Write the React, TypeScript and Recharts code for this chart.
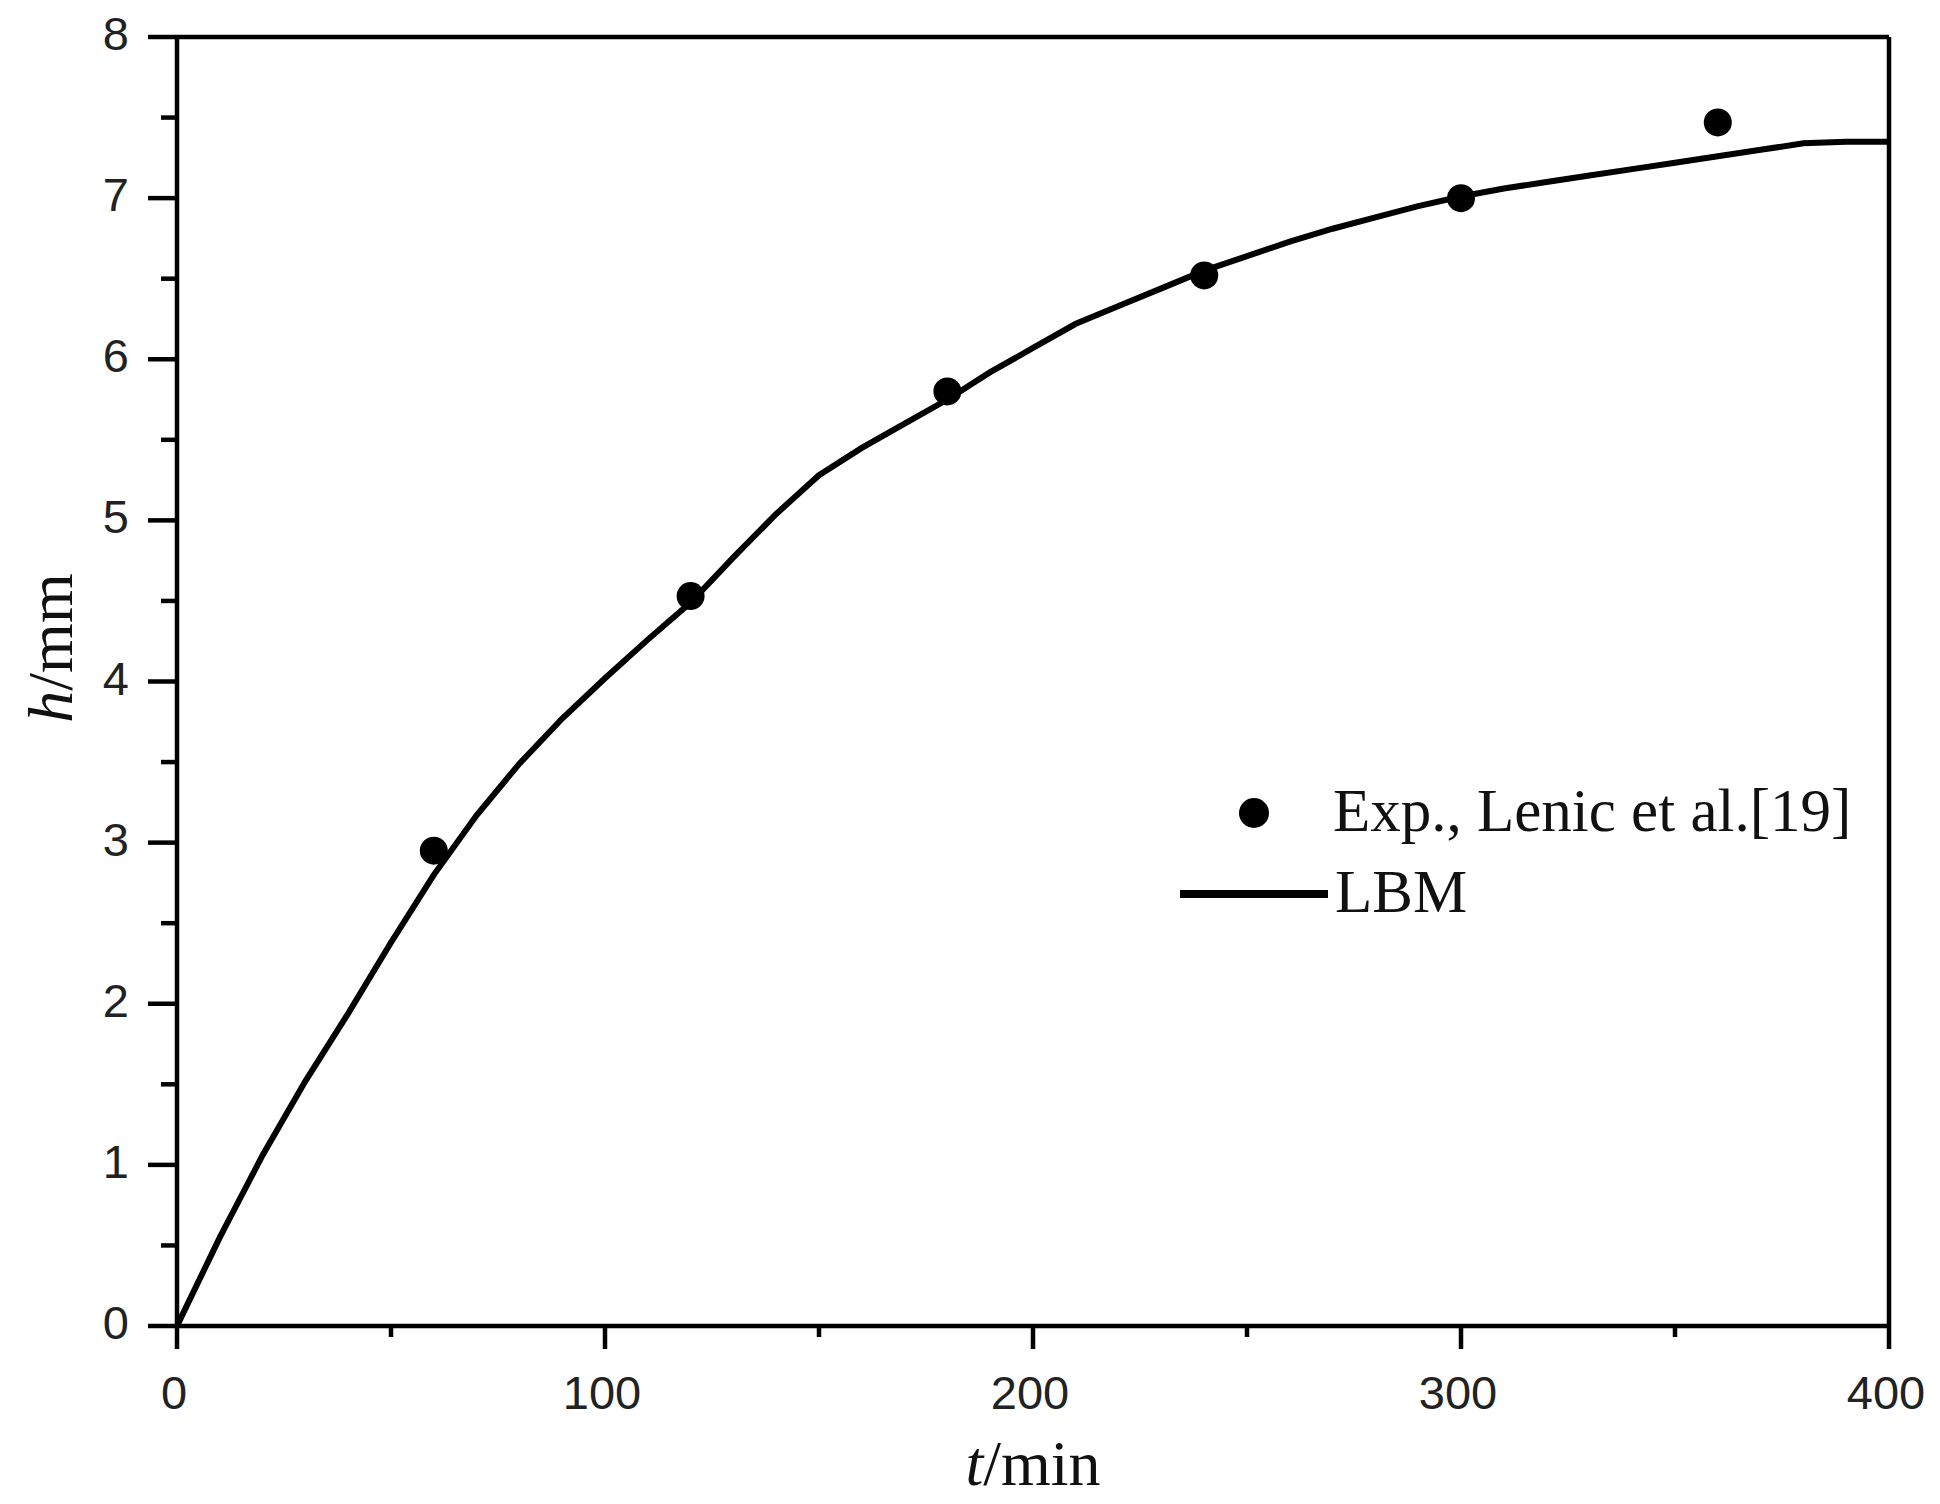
import React from 'react';
import { ComposedChart, Line, Scatter, XAxis, YAxis, ReferenceLine, Legend } from 'recharts';

// LBM simulation curve (t in min, h in mm)
const lbmT = [0, 10, 20, 30, 40, 50, 60, 70, 80, 90, 100, 110, 120, 130, 140, 150, 160, 170, 180, 190, 200, 210, 220, 230, 240, 250, 260, 270, 280, 290, 300, 310, 320, 330, 340, 350, 360, 370, 380, 390, 400];
const lbmH = [0, 0.55, 1.06, 1.52, 1.94, 2.38, 2.8, 3.17, 3.49, 3.77, 4.02, 4.26, 4.49, 4.77, 5.04, 5.28, 5.45, 5.6, 5.75, 5.92, 6.07, 6.22, 6.33, 6.44, 6.55, 6.64, 6.73, 6.81, 6.88, 6.95, 7.01, 7.06, 7.1, 7.14, 7.18, 7.22, 7.26, 7.3, 7.34, 7.35, 7.35];

// Experimental points, Lenic et al. [19]
const expT = [60, 120, 180, 240, 300, 360];
const expH = [2.95, 4.53, 5.8, 6.52, 7.0, 7.47];

const xTicks = [0, 50, 100, 150, 200, 250, 300, 350, 400];
const yTicks = [0, 0.5, 1, 1.5, 2, 2.5, 3, 3.5, 4, 4.5, 5, 5.5, 6, 6.5, 7, 7.5, 8];

const lbmData = lbmT.map((t, i) => ({ t, h: lbmH[i] }));
const expData = expT.map((t, i) => ({ t, h: expH[i] }));

const SANS = "'Liberation Sans', Arial, sans-serif";
const SERIF = "'Liberation Serif', 'Times New Roman', serif";
const SW = 4.5;

const YTick = (props: any) => {
  const { x, y, payload } = props;
  const v = payload.value;
  const major = Number.isInteger(v);
  return (
    <g>
      <line x1={x} x2={x - (major ? 29 : 16)} y1={y} y2={y} stroke="#000" strokeWidth={SW} />
      {major && (
        <text x={x - 48} y={y + 13} textAnchor="end" fontSize={47} fontFamily={SANS} fill="#222">
          {v}
        </text>
      )}
    </g>
  );
};

const XTick = (props: any) => {
  const { x, y, payload } = props;
  const v = payload.value;
  const major = v % 100 === 0;
  return (
    <g>
      <line x1={x} x2={x} y1={y} y2={y + (major ? 23 : 11)} stroke="#000" strokeWidth={SW} />
      {major && (
        <text x={x - 3} y={y + 83} textAnchor="middle" fontSize={47} fontFamily={SANS} fill="#222">
          {v}
        </text>
      )}
    </g>
  );
};

const XTitle = () => (
  <text x={1025} y={1477} textAnchor="middle" fontSize={64} fontFamily={SERIF} fill="#111">
    <tspan fontStyle="italic">t</tspan>/min
  </text>
);

const YTitle = () => (
  <text x={64} y={640} transform="rotate(-90, 64, 640)" textAnchor="middle" fontSize={64} fontFamily={SERIF} fill="#111">
    <tspan fontStyle="italic">h</tspan>/mm
  </text>
);

const LegendBox = () => (
  <svg width={760} height={180} style={{ display: 'block', overflow: 'visible' }}>
    <circle cx={104} cy={53} r={15} fill="#000" />
    <text x={183} y={71} fontSize={61} fontFamily={SERIF} fill="#111">
      Exp., Lenic et al.[19]
    </text>
    <line x1={30} x2={178} y1={134} y2={134} stroke="#000" strokeWidth={8} />
    <text x={185} y={152} fontSize={61} fontFamily={SERIF} fill="#111">
      LBM
    </text>
  </svg>
);

const Dot = (props: any) => <circle cx={props.cx} cy={props.cy} r={14} fill="#000" />;

export default function App() {
  return (
    <div style={{ width: 1924, height: 1490, background: '#fff' }}>
      <ComposedChart width={1924} height={1490} margin={{ top: 29, right: 43, bottom: 12, left: 9 }}>
        <XAxis
          type="number"
          dataKey="t"
          domain={[0, 400]}
          ticks={xTicks}
          interval={0}
          height={160}
          tickSize={0}
          tickMargin={0}
          tickLine={false}
          axisLine={{ stroke: '#000', strokeWidth: SW }}
          tick={<XTick />}
          label={{ content: XTitle }}
          allowDataOverflow
        />
        <YAxis
          type="number"
          dataKey="h"
          domain={[0, 8]}
          ticks={yTicks}
          interval={0}
          width={160}
          tickSize={0}
          tickMargin={0}
          tickLine={false}
          axisLine={{ stroke: '#000', strokeWidth: SW }}
          tick={<YTick />}
          label={{ content: YTitle }}
          allowDataOverflow
        />
        <ReferenceLine y={8} stroke="#000" strokeWidth={SW} />
        <ReferenceLine x={400} stroke="#000" strokeWidth={SW} />
        <Line
          data={lbmData}
          dataKey="h"
          type="linear"
          stroke="#000"
          strokeWidth={6}
          dot={false}
          activeDot={false}
          isAnimationActive={false}
        />
        <Scatter data={expData} dataKey="h" fill="#000" shape={<Dot />} isAnimationActive={false} />
        <Legend
          layout="horizontal"
          verticalAlign="middle"
          align="center"
          content={LegendBox}
          wrapperStyle={{ position: 'absolute', left: 1142, top: 752, width: 760, height: 180 }}
        />
      </ComposedChart>
    </div>
  );
}
